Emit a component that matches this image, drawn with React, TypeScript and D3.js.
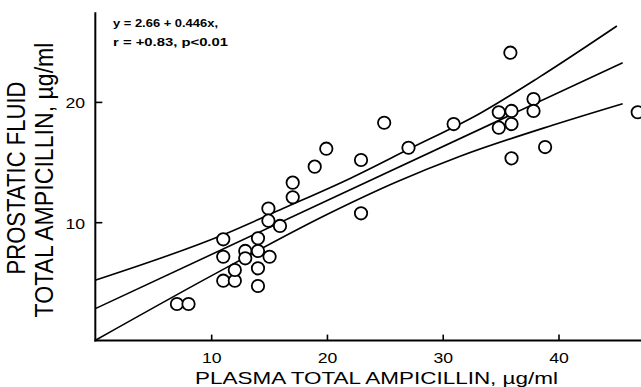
import React from "react";
import * as d3 from "d3";

const xTicks = [10, 20, 30, 40];
const yTicks = [10, 20];

const plasmaX = [7, 8, 11, 11, 11, 12, 12, 12.9, 12.9, 14, 14, 14, 14, 15, 14.9, 14.9, 15.9, 17, 17, 18.9, 19.9, 22.9, 22.9, 24.9, 27, 30.9, 34.8, 35.9, 34.8, 35.9, 35.8, 37.8, 37.8, 38.8, 35.9, 46.8];
const prostaticY = [3.24, 3.24, 8.62, 7.17, 5.18, 5.18, 6.07, 7.65, 7.04, 8.7, 7.65, 6.21, 4.74, 7.17, 11.18, 10.17, 9.73, 13.33, 12.11, 14.66, 16.15, 15.21, 10.78, 18.31, 16.23, 18.2, 19.18, 19.29, 17.9, 18.2, 24.13, 20.28, 19.29, 16.29, 15.35, 19.18];

const regX = [0, 45.5];
const regY = [2.88, 23.3];
const upperX = [0, 11, 16.2, 22, 27, 33.2, 38.3, 45];
const upperY = [5.24, 9.0, 11.2, 13.7, 16.1, 19.1, 22.1, 26.35];
const lowerX = [0, 10, 20, 26, 31.4, 39.5, 45.5];
const lowerY = [0.25, 5.6, 10.7, 13.4, 15.5, 18.12, 19.89];

const eqLine1 = "y = 2.66 + 0.446x,";
const eqLine2 = "r = +0.83, p<0.01";
const xTitle = "PLASMA TOTAL AMPICILLIN, \u00b5g/ml";
const yTitle1 = "PROSTATIC FLUID";
const yTitle2 = "TOTAL AMPICILLIN, \u00b5g/ml";

const W = 641;
const H = 387;
const FONT = "'Liberation Sans', Arial, Helvetica, sans-serif";
const SX = 1.26;

export default function App() {
  const x = d3.scaleLinear().domain([0, 40]).range([95.9, 559]);
  const y = d3.scaleLinear().domain([0, 20]).range([343, 102.4]);

  const line = d3
    .line<[number, number]>()
    .x((d) => x(d[0]))
    .y((d) => y(d[1]))
    .curve(d3.curveMonotoneX);

  const zip = (a: number[], b: number[]) => a.map((v, i) => [v, b[i]] as [number, number]);

  const axisY = y(0.2);
  const axisX = x(-0.05);

  return (
    <svg
      width={W}
      height={H}
      style={{ position: "fixed", left: 0, top: 0, background: "#fff" }}
      fontFamily={FONT}
    >
      <rect x={0} y={0} width={W} height={H} fill="#fff" />
      {/* axes */}
      <line x1={axisX} x2={axisX} y1={y(27.5)} y2={axisY + 1} stroke="#000" strokeWidth={2} />
      <line x1={axisX - 1} x2={W} y1={axisY} y2={axisY} stroke="#000" strokeWidth={2} />
      {xTicks.map((t) => (
        <g key={"xt" + t}>
          <line x1={x(t)} x2={x(t)} y1={axisY} y2={axisY - 6} stroke="#000" strokeWidth={1.6} />
          <text
            transform={`translate(${x(t)},${363}) scale(${SX},1)`}
            textAnchor="middle"
            fontSize={14}
            fill="#000"
          >
            {t}
          </text>
        </g>
      ))}
      {yTicks.map((t) => (
        <g key={"yt" + t}>
          <line x1={axisX} x2={axisX + 7} y1={y(t)} y2={y(t)} stroke="#000" strokeWidth={1.6} />
          <text
            transform={`translate(${85},${y(t) + 6}) scale(${SX},1)`}
            textAnchor="end"
            fontSize={14}
            fill="#000"
          >
            {t}
          </text>
        </g>
      ))}
      {/* lines */}
      <path d={line(zip(upperX, upperY)) || ""} fill="none" stroke="#000" strokeWidth={1.6} />
      <path d={line(zip(regX, regY)) || ""} fill="none" stroke="#000" strokeWidth={1.6} />
      <path d={line(zip(lowerX, lowerY)) || ""} fill="none" stroke="#000" strokeWidth={1.6} />
      {/* points */}
      {plasmaX.map((v, i) => (
        <circle
          key={"p" + i}
          cx={x(v)}
          cy={y(prostaticY[i])}
          r={6.2}
          fill="#fff"
          stroke="#000"
          strokeWidth={1.8}
        />
      ))}
      {/* equation */}
      <text x={113} y={27} fontSize={11} fontWeight="bold" textLength={105} lengthAdjust="spacingAndGlyphs">
        {eqLine1}
      </text>
      <text x={113} y={46} fontSize={11} fontWeight="bold" textLength={115} lengthAdjust="spacingAndGlyphs">
        {eqLine2}
      </text>
      {/* x title */}
      <text x={195} y={384} fontSize={17} textLength={363} lengthAdjust="spacingAndGlyphs">
        {xTitle}
      </text>
      {/* y titles */}
      <g transform={`translate(25,178) scale(${SX},1) rotate(-90)`}>
        <text x={0} y={0} fontSize={20} textAnchor="middle" textLength={193} lengthAdjust="spacingAndGlyphs">
          {yTitle1}
        </text>
      </g>
      <g transform={`translate(53,180) scale(${SX},1) rotate(-90)`}>
        <text x={0} y={0} fontSize={20} textAnchor="middle" textLength={275} lengthAdjust="spacingAndGlyphs">
          {yTitle2}
        </text>
      </g>
    </svg>
  );
}
